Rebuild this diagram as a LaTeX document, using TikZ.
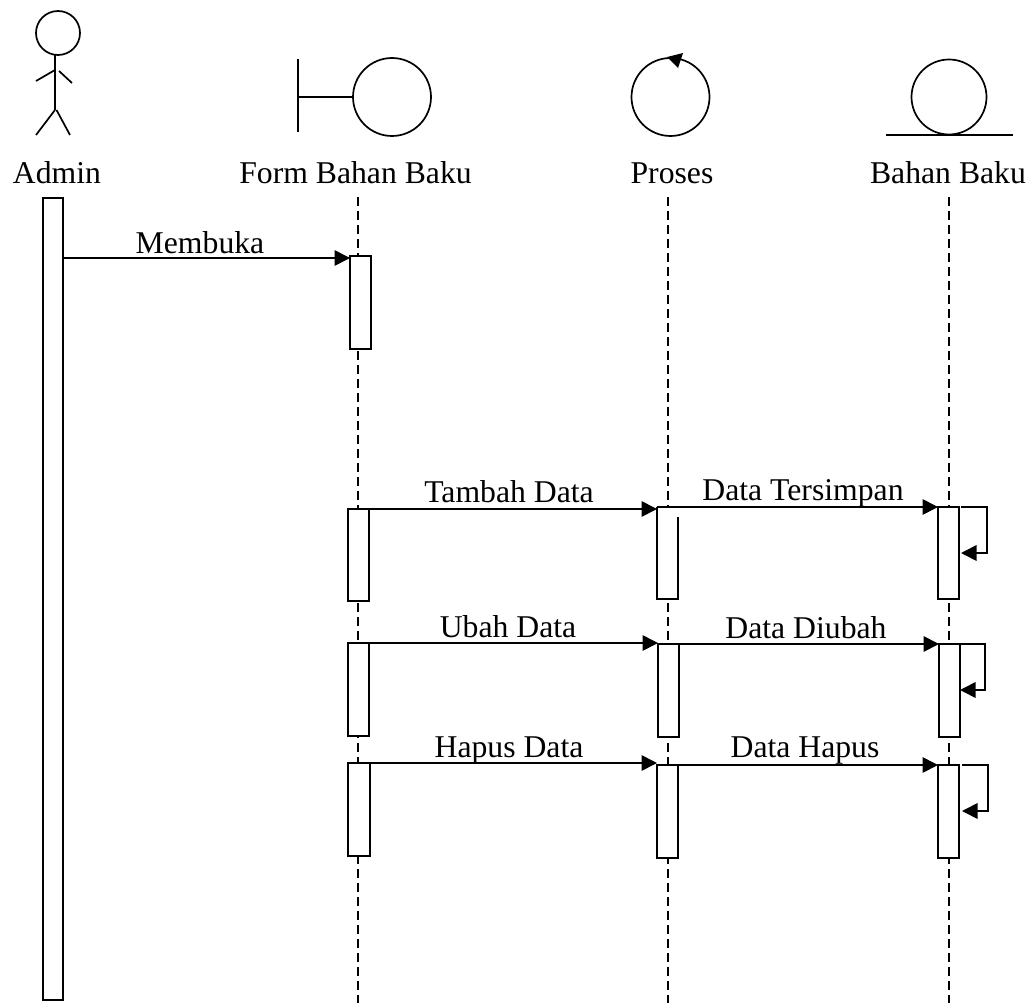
\documentclass[tikz,border=0pt]{standalone}
\usepackage{fontspec}
\setmainfont{Liberation Serif}
\usetikzlibrary{arrows.meta}
\newcommand{\actbox}[6][act]{\node[#1,minimum width={(#5-#3)*1pt},minimum height={(#6-#4)*1pt}] (#2) at ({(#3+#5)/2},{(#4+#6)/2}) {};}
\tikzset{
  line/.style={line width=1.7pt,black},
  act/.style={line,draw,fill=white,rectangle,inner sep=0pt,outer sep=0pt},
  actopen/.style={fill=white,rectangle,inner sep=0pt,outer sep=0pt},
  life/.style={line,dash pattern=on 9pt off 5pt},
  msg/.style={line,-{Triangle[length=15.5pt,width=15.5pt]}},
  lbl/.style={inner sep=0pt,outer sep=0pt,anchor=base,font=\fontsize{31.7}{36}\selectfont},
  head/.style={line,draw,circle,inner sep=0pt,outer sep=0pt}
}
\begin{document}
\begin{tikzpicture}[x=1pt,y=-1pt]
\useasboundingbox (0,0) rectangle (1033,1003);
% lifelines
\coordinate (ltop1) at (358,197);
\coordinate (lbot1) at (358,1003);
\coordinate (ltop2) at (668,197);
\coordinate (lbot2) at (668,1003);
\coordinate (ltop3) at (949,197);
\coordinate (lbot3) at (949,1003);
\draw[life] (ltop1) -- (lbot1);
\draw[life] (ltop2) -- (lbot2);
\draw[life] (ltop3) -- (lbot3);
% actor
\node[head,minimum size=44pt] (actorhead) at (58,33) {};
\coordinate (hip) at (55,110);
\coordinate (shoulderL) at (55,70);
\coordinate (shoulderR) at (59,71);
\coordinate (handL) at (36,81);
\coordinate (handR) at (72,83);
\coordinate (footL) at (36,135);
\coordinate (footR) at (70,135);
\coordinate (hipR) at (56.5,110);
\coordinate (neck) at (55,55);
\draw[line] (neck) -- (hip);
\draw[line] (handL) -- (shoulderL);
\draw[line] (shoulderR) -- (handR);
\draw[line] (hip) -- (footL);
\draw[line] (hipR) -- (footR);
% boundary
\node[head,minimum size=78pt] (bcircle) at (392,97) {};
\coordinate (btop) at (298,59);
\coordinate (bbot) at (298,132);
\coordinate (bmid) at (298,97);
\draw[line] (btop) -- (bbot);
\draw[line] (bmid) -- (bcircle.west);
% control
\node[head,minimum size=78pt] (ccircle) at (670.5,97) {};
\fill (683,53) -- (667,57) -- (678,68) -- cycle;
% entity
\node[head,minimum size=75pt] (ecircle) at (949,97) {};
\coordinate (eL) at (886,135);
\coordinate (eR) at (1013,135);
\draw[line] (eL) -- (eR);
% headings
\node[lbl] (tAdmin) at (57,184) {Admin};
\node[lbl] (tForm) at (355.5,184) {Form Bahan Baku};
\node[lbl] (tProses) at (672,184) {Proses};
\node[lbl] (tBahan) at (948,184) {Bahan Baku};
% activations
\actbox{aAdmin}{43}{198}{63}{1000}
\actbox{aF1}{350}{256}{371}{349}
\actbox{aF2}{348}{509}{369}{601}
\actbox{aF3}{348}{643}{369}{736}
\actbox{aF4}{348}{763}{370}{856}
\actbox[actopen]{aP2}{657}{507}{678}{599}
\actbox{aP3}{658}{644}{679}{737}
\actbox{aP4}{657}{765}{678}{858}
\actbox{aB2}{938}{507}{959}{599}
\actbox{aB3}{939}{644}{960}{737}
\actbox{aB4}{938}{765}{959}{858}
\coordinate (aP2gap) at (678,517);
\draw[line] (aP2gap) -- (aP2.south east) -- (aP2.south west) -- (aP2.north west);
% messages
\coordinate (y1) at (0,258);
\draw[msg] (aAdmin.east |- y1) -- (aF1.west |- y1);
\draw[msg] (aF2.north east) -- (aP2.west |- aF2.north);
\draw[msg] (aP2.north west) -- (aB2.north west);
\coordinate (y3) at (0,643);
\draw[msg] (aF3.east |- y3) -- (aP3.west |- y3);
\draw[msg] (aP3.north east) -- (aB3.north west);
\coordinate (y4) at (0,763);
\draw[msg] (aF4.east |- y4) -- (aP4.west |- y4);
\draw[msg] (aP4.north east) -- (aB4.north west);
% self messages
\coordinate (s2a) at (961,507);
\coordinate (s2b) at (987,507);
\coordinate (s2c) at (987,553);
\coordinate (s2d) at (961,553);
\draw[msg] (s2a) -- (s2b) -- (s2c) -- (s2d);
\coordinate (s3a) at (960,644);
\coordinate (s3b) at (985,644);
\coordinate (s3c) at (985,690);
\coordinate (s3d) at (960,690);
\draw[msg] (s3a) -- (s3b) -- (s3c) -- (s3d);
\coordinate (s4a) at (962,765);
\coordinate (s4b) at (988,765);
\coordinate (s4c) at (988,811);
\coordinate (s4d) at (962,811);
\draw[msg] (s4a) -- (s4b) -- (s4c) -- (s4d);
% message labels
\node[lbl] (mMembuka) at (200,253) {Membuka};
\node[lbl] (mTambah) at (509,502) {Tambah Data};
\node[lbl] (mSimpan) at (803,500) {Data Tersimpan};
\node[lbl] (mUbah) at (508,637) {Ubah Data};
\node[lbl] (mDiubah) at (806,638) {Data Diubah};
\node[lbl] (mHapus) at (509,757) {Hapus Data};
\node[lbl] (mDHapus) at (805,757) {Data Hapus};
\end{tikzpicture}
\end{document}
